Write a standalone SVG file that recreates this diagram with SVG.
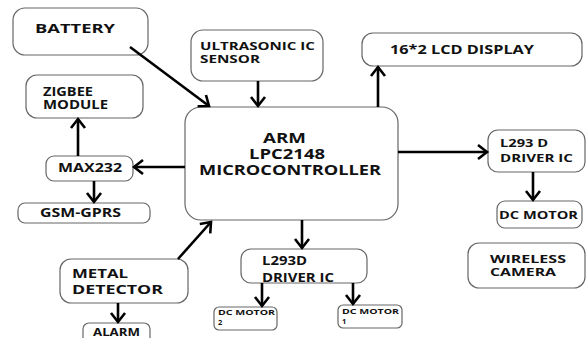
<svg xmlns="http://www.w3.org/2000/svg" width="588" height="338" viewBox="0 0 588 338">
<defs>
<marker id="ah" markerUnits="userSpaceOnUse" markerWidth="20" markerHeight="20" viewBox="-12 -10 14 20" refX="0" refY="0" orient="auto">
<path d="M-9,-7 L0,0 L-9,7" fill="none" stroke="#000" stroke-width="2.6"/>
</marker>
</defs>
<style>
.b{fill:#fff;stroke:#666;stroke-width:1.2}
.t{font-family:"Open Sans","Liberation Sans",sans-serif;font-weight:bold;fill:#111}
.c{stroke:#000;stroke-width:2.6;fill:none;marker-end:url(#ah)}
</style>
<rect width="588" height="338" fill="#fff"/>
<g id="battery"><rect class="b" x="13" y="8" width="135" height="47" rx="12"/><text class="t" x="35" y="33" font-size="13" textLength="80" lengthAdjust="spacingAndGlyphs">BATTERY</text></g>
<g id="zigbee"><rect class="b" x="26" y="75" width="117" height="43" rx="11"/><text class="t" x="43" y="96" font-size="13" textLength="50" lengthAdjust="spacingAndGlyphs">ZIGBEE</text><text class="t" x="43" y="109" font-size="13" textLength="65" lengthAdjust="spacingAndGlyphs">MODULE</text></g>
<g id="ultrasonic"><rect class="b" x="191" y="30" width="132" height="51" rx="12"/><text class="t" x="200" y="50" font-size="11" textLength="115" lengthAdjust="spacingAndGlyphs">ULTRASONIC IC</text><text class="t" x="200" y="63" font-size="11" textLength="60" lengthAdjust="spacingAndGlyphs">SENSOR</text></g>
<g id="lcd"><rect class="b" x="362" y="33" width="220" height="33" rx="11"/><text class="t" x="390" y="54" font-size="12" textLength="144" lengthAdjust="spacingAndGlyphs">16*2 LCD DISPLAY</text></g>
<g id="arm"><rect class="b" x="185" y="107" width="213" height="113" rx="16"/><text class="t" x="263" y="143" font-size="14" textLength="43" lengthAdjust="spacingAndGlyphs">ARM</text><text class="t" x="249" y="159" font-size="14" textLength="76" lengthAdjust="spacingAndGlyphs">LPC2148</text><text class="t" x="199" y="175" font-size="14" textLength="182" lengthAdjust="spacingAndGlyphs">MICROCONTROLLER</text></g>
<g id="max232"><rect class="b" x="46" y="156" width="87" height="25" rx="8"/><text class="t" x="58" y="172" font-size="12" textLength="64" lengthAdjust="spacingAndGlyphs">MAX232</text></g>
<g id="gsm"><rect class="b" x="18" y="203" width="132" height="20" rx="7"/><text class="t" x="40" y="217" font-size="12" textLength="81" lengthAdjust="spacingAndGlyphs">GSM-GPRS</text></g>
<g id="l293r"><rect class="b" x="488" y="130" width="97" height="42" rx="10"/><text class="t" x="500" y="147" font-size="11" textLength="48" lengthAdjust="spacingAndGlyphs">L293 D</text><text class="t" x="500" y="162" font-size="11" textLength="73" lengthAdjust="spacingAndGlyphs">DRIVER IC</text></g>
<g id="dcmotor"><rect class="b" x="497" y="201" width="85" height="27" rx="8"/><text class="t" x="499" y="219" font-size="10.5" textLength="79" lengthAdjust="spacingAndGlyphs">DC MOTOR</text></g>
<g id="camera"><rect class="b" x="468" y="243" width="117" height="45" rx="11"/><text class="t" x="490" y="263" font-size="11" textLength="76" lengthAdjust="spacingAndGlyphs">WIRELESS</text><text class="t" x="490" y="276" font-size="11" textLength="66" lengthAdjust="spacingAndGlyphs">CAMERA</text></g>
<g id="metal"><rect class="b" x="60" y="259" width="128" height="44" rx="11"/><text class="t" x="72" y="278" font-size="13" textLength="56" lengthAdjust="spacingAndGlyphs">METAL</text><text class="t" x="72" y="294" font-size="13" textLength="91" lengthAdjust="spacingAndGlyphs">DETECTOR</text></g>
<g id="alarm"><rect class="b" x="83" y="323" width="67" height="20" rx="6"/><text class="t" x="93" y="336" font-size="11" textLength="47" lengthAdjust="spacingAndGlyphs">ALARM</text></g>
<g id="l293b"><rect class="b" x="241" y="249" width="126" height="34" rx="10"/><text class="t" x="262" y="265" font-size="12" textLength="45" lengthAdjust="spacingAndGlyphs">L293D</text><text class="t" x="262" y="282" font-size="12" textLength="72" lengthAdjust="spacingAndGlyphs">DRIVER IC</text></g>
<g id="dcm2"><rect class="b" x="214" y="307" width="63" height="23" rx="5"/><text class="t" x="218" y="315" font-size="7.5" textLength="57" lengthAdjust="spacingAndGlyphs">DC MOTOR</text><text class="t" x="218" y="325" font-size="7.5">2</text></g>
<g id="dcm1"><rect class="b" x="338" y="305" width="64" height="23" rx="5"/><text class="t" x="342" y="314" font-size="7.5" textLength="57" lengthAdjust="spacingAndGlyphs">DC MOTOR</text><text class="t" x="342" y="324" font-size="7.5">1</text></g>
<g id="connectors">
<line class="c" x1="130" y1="47" x2="209" y2="106"/>
<line class="c" x1="258" y1="81" x2="258" y2="106"/>
<line class="c" x1="378" y1="107" x2="378" y2="67"/>
<line class="c" x1="185" y1="167" x2="134" y2="167"/>
<line class="c" x1="78" y1="156" x2="78" y2="119"/>
<line class="c" x1="94" y1="181" x2="94" y2="202"/>
<line class="c" x1="398" y1="152" x2="487" y2="152"/>
<line class="c" x1="533" y1="172" x2="533" y2="200"/>
<line class="c" x1="178" y1="259" x2="211" y2="222"/>
<line class="c" x1="118" y1="303" x2="118" y2="322"/>
<line class="c" x1="302" y1="220" x2="302" y2="248"/>
<line class="c" x1="262" y1="283" x2="262" y2="306"/>
<line class="c" x1="353" y1="283" x2="353" y2="304"/>
</g>
</svg>
